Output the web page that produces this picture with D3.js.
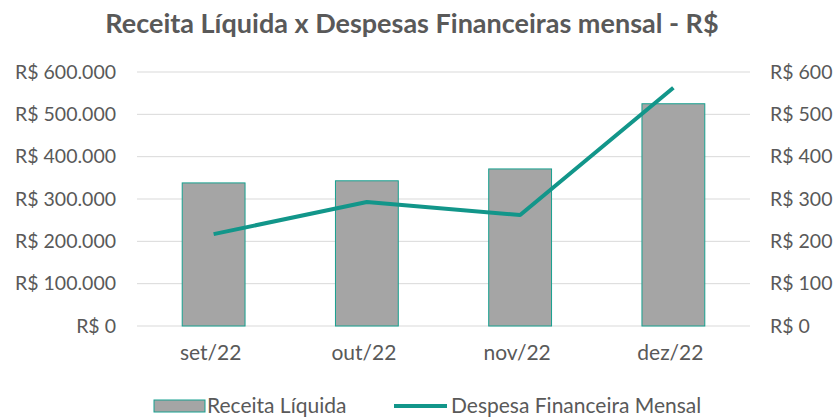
<!DOCTYPE html>
<html lang="pt-BR">
<head>
<meta charset="utf-8">
<title>Receita Líquida x Despesas Financeiras</title>
<script src="https://cdn.jsdelivr.net/npm/d3@7"></script>
<style>
  body { margin: 0; background: #fff; }
  text { font-family: Lato, "Open Sans", sans-serif; fill: #595959; }
</style>
</head>
<body>
<script>
// data
var months = ["set/22", "out/22", "nov/22", "dez/22"];
var receita = [338000, 343000, 371000, 525000];
var despesa = [217, 293, 262, 563];
var leftTicks = [0, 100000, 200000, 300000, 400000, 500000, 600000];
var rightTicks = [0, 100, 200, 300, 400, 500, 600];

var w = 835, h = 417;
var plotLeft = 137, plotRight = 750, plotTop = 72, plotBottom = 326;

var svg = d3.select("body").append("svg")
  .attr("width", w)
  .attr("height", h);

var x = d3.scaleBand()
  .domain(months)
  .range([plotLeft, plotRight])
  .paddingInner(0.59)
  .paddingOuter(0.295);

var yL = d3.scaleLinear().domain([0, 600000]).range([plotBottom, plotTop]);
var yR = d3.scaleLinear().domain([0, 600]).range([plotBottom, plotTop]);

var fmt = function(d) {
  return "R$ " + d3.format(",")(d).replace(/,/g, ".");
};

// gridlines
svg.append("g")
  .selectAll("line")
  .data(leftTicks)
  .enter()
  .append("line")
  .attr("x1", plotLeft)
  .attr("x2", plotRight)
  .attr("y1", function(d) { return yL(d); })
  .attr("y2", function(d) { return yL(d); })
  .attr("stroke", "#d9d9d9")
  .attr("stroke-width", 1);

// left axis
var axL = svg.append("g")
  .attr("transform", "translate(" + (plotLeft - 21) + ",0)")
  .call(d3.axisLeft(yL).tickValues(leftTicks).tickFormat(fmt).tickSize(0).tickPadding(0));
axL.select(".domain").remove();
axL.selectAll("text").attr("fill", "#595959").style("font-size", "19.5px");

// right axis
var axR = svg.append("g")
  .attr("transform", "translate(" + (plotRight + 20) + ",0)")
  .call(d3.axisRight(yR).tickValues(rightTicks).tickFormat(fmt).tickSize(0).tickPadding(0));
axR.select(".domain").remove();
axR.selectAll("text").attr("fill", "#595959").style("font-size", "19.5px");

// bars
svg.append("g")
  .selectAll("rect")
  .data(receita)
  .enter()
  .append("rect")
  .attr("x", function(d, i) { return x(months[i]); })
  .attr("y", function(d) { return yL(d); })
  .attr("width", x.bandwidth())
  .attr("height", function(d) { return plotBottom - yL(d); })
  .attr("fill", "#a5a5a5")
  .attr("stroke", "#16a08f")
  .attr("stroke-width", 1);

// line
var line = d3.line()
  .x(function(d, i) { return x(months[i]) + x.bandwidth() / 2; })
  .y(function(d) { return yR(d); });

svg.append("path")
  .datum(despesa)
  .attr("d", line)
  .attr("fill", "none")
  .attr("stroke", "#12968a")
  .attr("stroke-width", 4)
  .attr("stroke-linejoin", "round");

// x labels
var axX = svg.append("g")
  .attr("transform", "translate(-3," + plotBottom + ")")
  .call(d3.axisBottom(x).tickSize(0).tickPadding(19));
axX.select(".domain").remove();
axX.selectAll("text").attr("fill", "#595959").style("font-size", "21px");

// title
svg.append("text")
  .attr("x", 412)
  .attr("y", 33)
  .attr("text-anchor", "middle")
  .style("font-size", "27px")
  .style("font-weight", "bold")
  .text("Receita Líquida x Despesas Financeiras mensal - R$");

// legend
var lg = svg.append("g");
lg.append("rect")
  .attr("x", 154).attr("y", 400)
  .attr("width", 51).attr("height", 12)
  .attr("fill", "#a5a5a5")
  .attr("stroke", "#16a08f");
lg.append("text")
  .attr("x", 207).attr("y", 413)
  .style("font-size", "21px")
  .text("Receita Líquida");
lg.append("line")
  .attr("x1", 394).attr("x2", 447)
  .attr("y1", 406).attr("y2", 406)
  .attr("stroke", "#12968a")
  .attr("stroke-width", 4);
lg.append("text")
  .attr("x", 451).attr("y", 413)
  .style("font-size", "21px")
  .text("Despesa Financeira Mensal");
</script>
</body>
</html>
